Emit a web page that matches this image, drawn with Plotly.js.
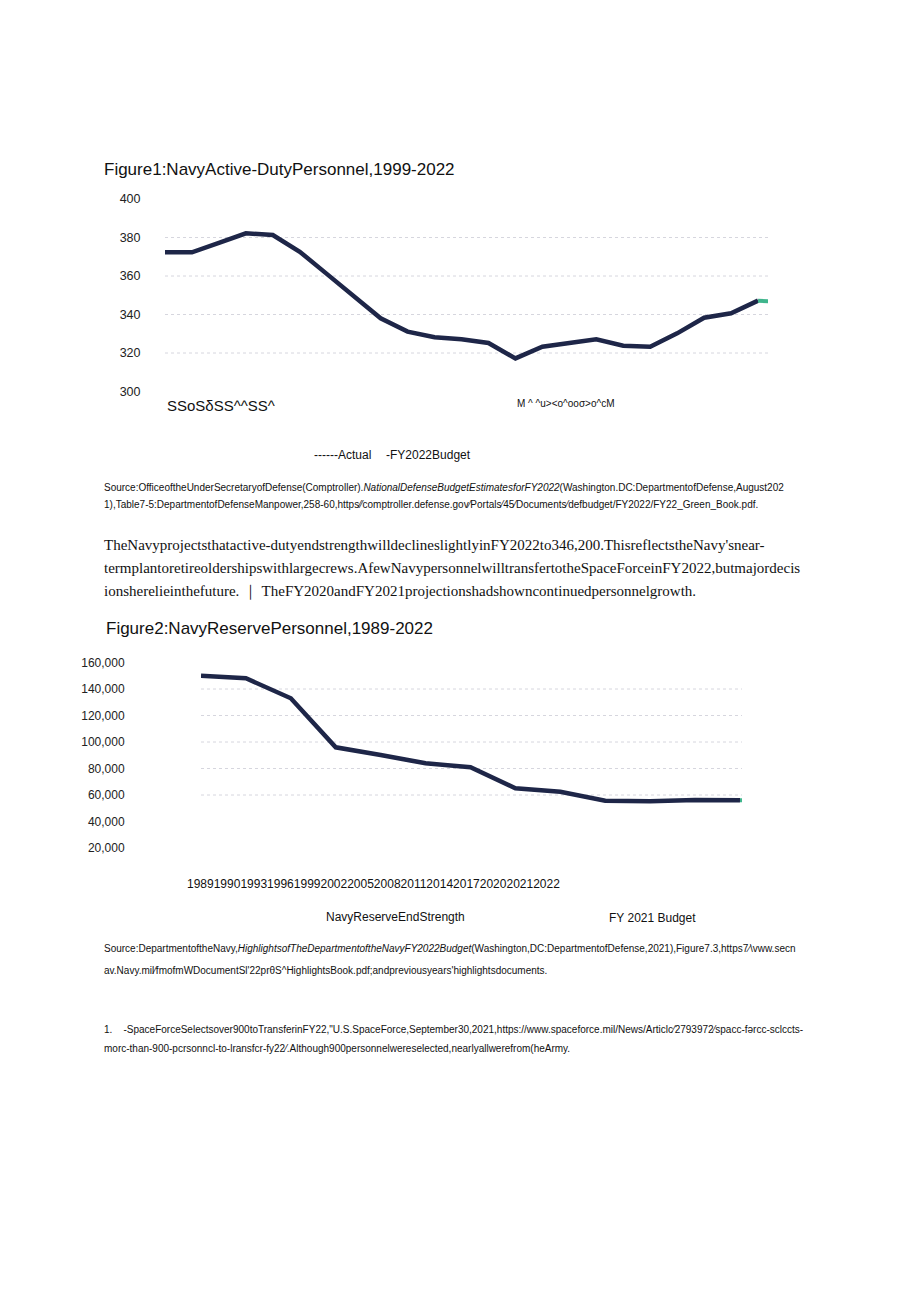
<!DOCTYPE html>
<html>
<head>
<meta charset="utf-8">
<script src="https://cdn.plot.ly/plotly-3.0.1.min.js"></script>
<style>
html,body{margin:0;padding:0;background:#fff;}
#chart{width:920px;height:1301px;}
</style>
</head>
<body>
<div id="chart"></div>
<script>
// ---------- Data: Figure 1 (thousands) ----------
const years1 = [1999,2000,2001,2002,2003,2004,2005,2006,2007,2008,2009,2010,2011,2012,2013,2014,2015,2016,2017,2018,2019,2020,2021];
const actual1 = [372.3,372.3,377.2,382.2,381.3,372.6,361.1,349.6,338.0,331.1,328.2,327.1,325.2,317.2,323.3,325.2,327.1,323.8,323.3,330.2,338.3,340.6,347.2];
const budgetYears1 = [2021,2022];
const budget1 = [347.2,346.2];
const yTicks1 = [300,320,340,360,380,400];
const grid1 = [320,340,360,380];
const xLabelA1 = "SSoSδSS^^SS^";
const xLabelB1 = "M ^ ^u><o^ooσ>o^cM";

// ---------- Data: Figure 2 ----------
const cats2 = ["1989","1990","1993","1996","1999","2002","2005","2008","2011","2014","2017","2020","2021","2022"];
const actual2 = [150000,148100,133000,96000,90200,83900,80900,65100,62500,55700,55200,56200,56000];
const budgetCats2 = ["2021","2022"];
const budget2 = [56000,56000];
const yTicks2 = [20000,40000,60000,80000,100000,120000,140000,160000];
const grid2 = [60000,80000,100000,120000,140000];

// ---------- Text ----------
const title1 = "Figure1:NavyActive-DutyPersonnel,1999-2022";
const title2 = "Figure2:NavyReservePersonnel,1989-2022";
const legend1 = ["------Actual","-FY2022Budget"];
const legend2 = ["NavyReserveEndStrength","FY 2021 Budget"];
const source1 = [
 "Source:OfficeoftheUnderSecretaryofDefense(Comptroller).<i>NationalDefenseBudgetEstimatesforFY2022</i>(Washington.DC:DepartmentofDefense,August202",
 "1),Table7-5:DepartmentofDefenseManpower,258-60,https\u2044\u2044comptroller.defense.gov\u2044Portals\u204445\u2044Documents\u2044defbudget/FY2022/FY22_Green_Book.pdf."
];
const body = [
 "TheNavyprojectsthatactive-dutyendstrengthwilldeclineslightlyinFY2022to346,200.ThisreflectstheNavy'snear-",
 "termplantoretireoldershipswithlargecrews.AfewNavypersonnelwilltransfertotheSpaceForceinFY2022,butmajordecis",
 "ionsherelieinthefuture. \uFF5C TheFY2020andFY2021projectionshadshowncontinuedpersonnelgrowth."
];
const source2 = [
 "Source:DepartmentoftheNavy,<i>HighlightsofTheDepartmentoftheNavyFY2022Budget</i>(Washington,DC:DepartmentofDefense,2021),Figure7.3,https7\u2215\\vww.secn",
 "av.Navy.mil\u2044fmofmWDocumentSl'22pr\u03b8S^HighlightsBook.pdf;andpreviousyears'highlightsdocuments."
];
const footnote = [
 "1.    -SpaceForceSelectsover900toTransferinFY22,\"U.S.SpaceForce,September30,2021,https://www.spaceforce.mil/News/Articlc\u20442793972\u2044spacc-f\u01ddrcc-sclccts-",
 "morc-than-900-pcrsonncl-to-lransfcr-fy22\u2044.Although900personnelwereselected,nearlyallwerefrom(heArmy."
];

// ---------- Helpers ----------
const W = 920, H = 1301;
const px = x => x / W;
const py = y => 1 - y / H;
const SANS = "Liberation Sans, Arial, sans-serif";
const SERIF = "Liberation Serif, Times New Roman, serif";
function txt(text, x, y, size, family, extra) {
  return Object.assign({
    text: text, x: px(x), y: py(y), xref: 'paper', yref: 'paper',
    xanchor: 'left', yanchor: 'middle', showarrow: false,
    font: {family: family || SANS, size: size, color: '#111'}
  }, extra || {});
}
const NAVY = '#1e2648';
const GREEN = '#3fb58c';

const traces = [
  {x: years1, y: actual1, xaxis: 'x', yaxis: 'y', type: 'scatter', mode: 'lines',
   line: {color: NAVY, width: 4.5}, hoverinfo: 'skip', name: 'Actual'},
  {x: budgetYears1, y: budget1, xaxis: 'x', yaxis: 'y', type: 'scatter', mode: 'lines',
   line: {color: GREEN, width: 4}, hoverinfo: 'skip', name: 'FY2022 Budget'},
  {x: budgetCats2, y: budget2, xaxis: 'x2', yaxis: 'y2', type: 'scatter', mode: 'lines',
   line: {color: GREEN, width: 4}, hoverinfo: 'skip', name: 'FY 2021 Budget'},
  {x: cats2.slice(0, actual2.length), y: actual2, xaxis: 'x2', yaxis: 'y2', type: 'scatter', mode: 'lines',
   line: {color: NAVY, width: 4.5}, hoverinfo: 'skip', name: 'Navy Reserve End Strength'}
];

const shapes = [];
grid1.forEach(v => shapes.push({type: 'line', xref: 'x domain', yref: 'y', x0: 0, x1: 1, y0: v, y1: v,
  line: {color: '#d6d6de', width: 1, dash: 'dot'}, layer: 'below'}));
grid2.forEach(v => shapes.push({type: 'line', xref: 'x2 domain', yref: 'y2', x0: 0, x1: 1, y0: v, y1: v,
  line: {color: '#d6d6de', width: 1, dash: 'dot'}, layer: 'below'}));

const annotations = [
  txt(title1, 102, 170, 17),
  txt(xLabelA1, 165, 406, 15),
  txt(xLabelB1, 515, 404, 10),
  txt(legend1[0], 312, 455, 12),
  txt(legend1[1], 384, 455, 12),
  txt(source1[0], 102, 487, 10),
  txt(source1[1], 102, 504, 10),
  txt(body[0], 102, 545, 15, SERIF),
  txt(body[1], 102, 568, 15, SERIF),
  txt(body[2], 102, 591, 15, SERIF),
  txt(title2, 104, 628, 17),
  txt(cats2.join(''), 185, 884, 12),
  txt(legend2[0], 324, 917, 12),
  txt(legend2[1], 607, 918, 12),
  txt(source2[0], 102, 948, 10),
  txt(source2[1], 102, 970, 10),
  txt(footnote[0], 102, 1029, 10),
  txt(footnote[1], 102, 1048, 10)
];

const layout = {
  width: W, height: H,
  margin: {l: 0, r: 0, t: 0, b: 0},
  paper_bgcolor: '#ffffff', plot_bgcolor: 'rgba(0,0,0,0)',
  showlegend: false,
  font: {family: SANS, color: '#111'},
  xaxis: {domain: [px(165), px(768)], range: [1999, 2021.37], showticklabels: false,
          showgrid: false, zeroline: false, showline: false, ticks: '', fixedrange: true},
  yaxis: {domain: [py(391.5), py(199)], range: [300, 400], tickvals: yTicks1, showgrid: false,
          zeroline: false, showline: false, ticks: 'outside', ticklen: 21, tickcolor: 'rgba(0,0,0,0)',
          tickfont: {size: 12.5, family: SANS, color: '#222'}, fixedrange: true},
  xaxis2: {domain: [px(201), px(742)], type: 'category', categoryarray: cats2, categoryorder: 'array',
           range: [0, 12.045], showticklabels: false, showgrid: false, zeroline: false, showline: false,
           ticks: '', fixedrange: true},
  yaxis2: {domain: [py(848), py(662.5)], range: [20000, 160000], tickvals: yTicks2, tickformat: ',d',
           showgrid: false, zeroline: false, showline: false, ticks: 'outside', ticklen: 37,
           tickcolor: 'rgba(0,0,0,0)', tickfont: {size: 12, family: SANS, color: '#222'}, fixedrange: true},
  shapes: shapes,
  annotations: annotations
};

Plotly.newPlot('chart', traces, layout, {staticPlot: true, displayModeBar: false});
</script>
</body>
</html>
